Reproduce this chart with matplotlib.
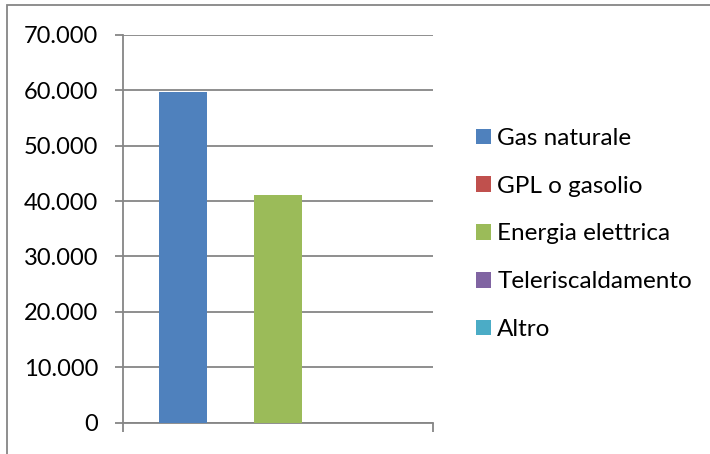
import matplotlib
matplotlib.use("Agg")
import matplotlib.pyplot as plt
from matplotlib.patches import Rectangle, Patch
from matplotlib.ticker import FuncFormatter

categories = [""]
series_names = ["Gas naturale", "GPL o gasolio", "Energia elettrica", "Teleriscaldamento", "Altro"]
series_values = [59700, 0, 41100, 0, 0]
series_colors = ["#4F81BD", "#C0504D", "#9BBB59", "#8064A2", "#4BACC6"]
y_ticks = [0, 10000, 20000, 30000, 40000, 50000, 60000, 70000]

W, H = 710, 454
plt.rcParams['font.family'] = ['Lato', 'DejaVu Sans']
fig = plt.figure(figsize=(W / 100, H / 100), dpi=100)
ax = fig.add_axes([123 / W, (H - 422.5) / H, (432.5 - 123) / W, (422.5 - 35) / H])

gray = "#868686"
n = len(series_names)
bw = 47.5 / 309.5
for i, (name, val, col) in enumerate(zip(series_names, series_values, series_colors)):
    ax.bar([0 + (i - (n - 1) / 2) * bw], [val], width=bw, color=col, linewidth=0, label=name, zorder=3)

ax.set_xlim(-0.5, 0.5)
ax.set_ylim(0, 70000)
ax.set_yticks(y_ticks)
ax.yaxis.set_major_formatter(FuncFormatter(lambda v, p: "0" if v == 0 else f"{int(v):,}".replace(",", ".")))
ax.set_xticks([-0.5, 0.5])
ax.set_xticklabels(["", ""])
ax.grid(axis='y', color=gray, linewidth=1.3, zorder=1)
ax.set_axisbelow(True)
for s in ["top", "right"]:
    ax.spines[s].set_visible(False)
for s in ["left", "bottom"]:
    ax.spines[s].set_color(gray)
    ax.spines[s].set_linewidth(1.3)
ax.tick_params(axis='y', length=6, width=1.3, color=gray, pad=12, labelsize=17, labelcolor="black")
ax.tick_params(axis='x', length=6.5, width=1.3, color=gray)

handles = [Patch(facecolor=c, edgecolor='none') for c in series_colors]
fig.legend(handles, series_names, loc='upper left', bbox_to_anchor=(476 / W, 1 - 128 / H),
           frameon=False, fontsize=17.5, handlelength=0.62, handleheight=0.62,
           handletextpad=0.25, labelspacing=1.1, borderpad=0, borderaxespad=0)

fig.add_artist(Rectangle((7 / W, -0.1), 1.2, 1 - 5 / H + 0.1, transform=fig.transFigure,
                         fill=False, edgecolor=gray, linewidth=1.3, clip_on=False))

fig.savefig("out.png", dpi=100)
